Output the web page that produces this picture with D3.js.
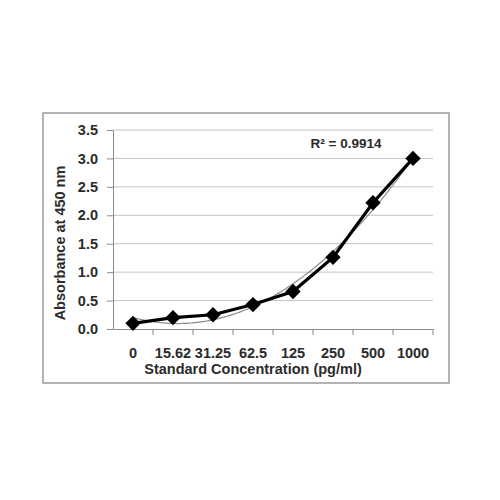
<!DOCTYPE html>
<html>
<head>
<meta charset="utf-8">
<script src="https://cdn.jsdelivr.net/npm/d3@7"></script>
<style>
  body { margin: 0; background: #fff; }
  text { font-family: "Liberation Sans", Arial, sans-serif; font-weight: bold; fill: #2b2b2b; }
</style>
</head>
<body>
<svg id="chart" width="500" height="500"></svg>
<script>
// standard curve readings
var concentrations = ["0", "15.62", "31.25", "62.5", "125", "250", "500", "1000"];
var absorbance = [0.10, 0.20, 0.25, 0.43, 0.66, 1.26, 2.22, 3.00];
var yTicks = [0, 0.5, 1.0, 1.5, 2.0, 2.5, 3.0, 3.5];
var r2Label = "R² = 0.9914";

var svg = d3.select("#chart");
var plotL = 113, plotR = 433, plotT = 130, plotB = 329;

// frame round the whole chart
svg.append("rect")
    .attr("x", 43).attr("y", 113)
    .attr("width", 406).attr("height", 270)
    .attr("fill", "none")
    .attr("stroke", "#9a9a9a")
    .attr("stroke-width", 1.5);

var x = d3.scaleBand().domain(concentrations).range([plotL, plotR]).padding(0);
var y = d3.scaleLinear().domain([0, 3.5]).range([plotB, plotT]);

// gridlines
svg.append("g").selectAll("line")
    .data(yTicks.slice(1))
    .enter().append("line")
    .attr("x1", plotL).attr("x2", plotR)
    .attr("y1", d => y(d)).attr("y2", d => y(d))
    .attr("stroke", "#c4c4c4").attr("stroke-width", 1);

// y axis
var yAxis = svg.append("g")
    .attr("transform", "translate(" + plotL + ",0)")
    .call(d3.axisLeft(y).tickValues(yTicks).tickFormat(d3.format(".1f")).tickSize(6).tickSizeOuter(0).tickPadding(9));
yAxis.selectAll("line, path").attr("stroke", "#8a8a8a");
yAxis.selectAll("text").style("font-size", "14.5px").attr("fill", "#2b2b2b");

// x axis, ticks sit on the category boundaries
var xAxis = svg.append("g")
    .attr("transform", "translate(0," + plotB + ")")
    .call(d3.axisBottom(x).tickSize(0).tickPadding(19));
xAxis.select("path").attr("stroke", "#8a8a8a");
xAxis.selectAll("text").style("font-size", "14.5px").attr("fill", "#2b2b2b");
xAxis.selectAll("line.bound")
    .data(concentrations)
    .enter().append("line")
    .attr("class", "bound")
    .attr("x1", (d, i) => x(concentrations[0]) + x.step() * (i + 1))
    .attr("x2", (d, i) => x(concentrations[0]) + x.step() * (i + 1))
    .attr("y1", 0).attr("y2", 6)
    .attr("stroke", "#8a8a8a");

// axis titles
svg.append("text")
    .attr("x", 253).attr("y", 374)
    .attr("text-anchor", "middle")
    .style("font-size", "14.5px")
    .text("Standard Concentration (pg/ml)");

svg.append("text")
    .attr("transform", "translate(65,243) rotate(-90)")
    .attr("text-anchor", "middle")
    .style("font-size", "14.5px")
    .text("Absorbance at 450 nm");

// polynomial (order 2) trendline, least squares on category index 1..n
var n = absorbance.length;
var xs = d3.range(1, n + 1);
var xm = d3.mean(xs), ym = d3.mean(absorbance);
var s2 = d3.sum(xs, v => (v - xm) ** 2);
var s4 = d3.sum(xs, v => (v - xm) ** 4);
var sty = d3.sum(xs, (v, i) => (v - xm) * absorbance[i]);
var st2y = d3.sum(xs, (v, i) => (v - xm) ** 2 * absorbance[i]);
var cq = (st2y - s2 * ym) / (s4 - s2 * s2 / n);
var bq = sty / s2;
var aq = ym - cq * s2 / n;
var trend = function(v) { var t = v - xm; return aq + bq * t + cq * t * t; };

var xi = d3.scaleLinear().domain([1, n]).range([x(concentrations[0]) + x.bandwidth() / 2, x(concentrations[n - 1]) + x.bandwidth() / 2]);
var trendPts = d3.range(1, n + 0.001, 0.05);
svg.append("path")
    .datum(trendPts)
    .attr("fill", "none")
    .attr("stroke", "#8c8c8c")
    .attr("stroke-width", 1.2)
    .attr("d", d3.line().x(d => xi(d)).y(d => y(trend(d))));

// data line
var pts = concentrations.map((c, i) => ({ c: c, v: absorbance[i] }));
svg.append("path")
    .datum(pts)
    .attr("fill", "none")
    .attr("stroke", "#000")
    .attr("stroke-width", 3.2)
    .attr("d", d3.line().x(d => x(d.c) + x.bandwidth() / 2).y(d => y(d.v)));

svg.append("g").selectAll("path")
    .data(pts)
    .enter().append("path")
    .attr("transform", d => "translate(" + (x(d.c) + x.bandwidth() / 2) + "," + y(d.v) + ")")
    .attr("d", d3.symbol().type(d3.symbolDiamond2).size(150))
    .attr("fill", "#000");

svg.append("text")
    .attr("x", 346).attr("y", 148)
    .attr("text-anchor", "middle")
    .style("font-size", "13.5px")
    .text(r2Label);
</script>
</body>
</html>
